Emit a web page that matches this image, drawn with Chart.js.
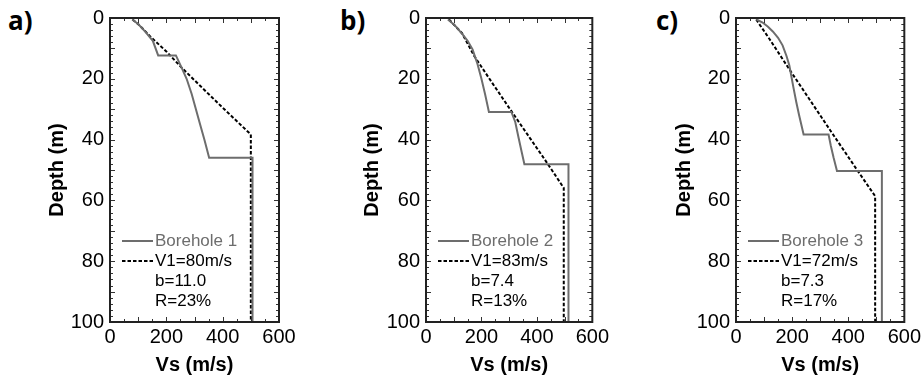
<!DOCTYPE html>
<html>
<head>
<meta charset="utf-8">
<script src="https://cdn.jsdelivr.net/npm/chart.js@4.4.1/dist/chart.umd.min.js"></script>
<style>
  body { margin: 0; background: #fff; width: 924px; height: 378px; overflow: hidden; position: relative; }
  canvas { position: absolute; top: 0; }
  .tag { position: absolute; font-family: "Open Sans", sans-serif; font-weight: 700; font-size: 26px; line-height: 1; color: #000; }
</style>
</head>
<body>
<div class="tag" style="left:8px;top:7px">a)</div>
<div class="tag" style="left:340px;top:7px">b)</div>
<div class="tag" style="left:656px;top:7px">c)</div>
<canvas id="chartA" width="300" height="378" style="left:0px"></canvas>
<canvas id="chartB" width="312" height="378" style="left:300px"></canvas>
<canvas id="chartC" width="314" height="378" style="left:610px"></canvas>
<script>
// Axis ticks
const xTicks = [0, 200, 400, 600];
const yTicks = [0, 20, 40, 60, 80, 100];

// Borehole profiles (solid grey)
const bh1Vs    = [79, 100, 125, 152, 171, 234, 255, 272, 290, 305, 320, 335, 352, 506, 506];
const bh1Depth = [0.5, 2, 4.5, 7.5, 12.3, 12.3, 16.5, 20, 25, 30, 35, 40, 46, 46, 100];

const bh2Vs    = [79, 105, 132, 150, 168, 186, 200, 213, 227, 308, 322, 333, 345, 355, 514, 514];
const bh2Depth = [0.5, 2.5, 5.4, 7.5, 10.3, 15.2, 20, 25, 30.9, 30.9, 34.2, 39, 44, 48.1, 48.1, 100];

const bh3Vs    = [73, 95, 114, 132, 150, 166, 180, 190, 197, 205, 215, 225, 241, 330, 338, 348, 360, 520, 520];
const bh3Depth = [0.5, 1.5, 2.9, 4.5, 6.5, 9, 12.5, 15.5, 19, 23, 27.7, 32, 38.3, 38.3, 42, 46, 50.3, 50.3, 100];

// Fitted profiles (dashed black)
const fit1Vs    = [80, 108, 142, 200, 254, 320, 400, 485, 500, 500];
const fit1Depth = [0.5, 2.7, 6, 11, 16.3, 22.3, 29.5, 37, 38.3, 100];

const fit2Vs    = [83, 130, 174, 240, 310, 375, 440, 497, 497];
const fit2Depth = [0.5, 5, 12.5, 21.5, 30.9, 39.5, 48.1, 55.9, 100];

const fit3Vs    = [72, 120, 186, 260, 340, 434, 496, 496];
const fit3Depth = [0.5, 7, 16.3, 26.5, 37.5, 50.3, 58.6, 100];

// Legend texts
const boreholeNames = ['Borehole 1', 'Borehole 2', 'Borehole 3'];
const v1Labels = ['V1=80m/s', 'V1=83m/s', 'V1=72m/s'];
const bLabels  = ['b=11.0', 'b=7.4', 'b=7.3'];
const rLabels  = ['R=23%', 'R=13%', 'R=17%'];

const GREY = '#6d6d6d';
const DASH = [3.5, 2];
const FONT = '"Liberation Sans", Arial, sans-serif';

const toPoints = (xs, ys) => xs.map((v, i) => ({ x: v, y: ys[i] }));

// box + inward ticks on all four sides
const framePlugin = {
    id: 'frame',
    afterDatasetsDraw(chart) {
        const { ctx, chartArea: a, scales: { x, y } } = chart;
        ctx.save();
        ctx.strokeStyle = '#333';
        ctx.lineWidth = 1;
        ctx.beginPath();
        for (let v = 0; v <= 600; v += 50) {
            const px = Math.round(x.getPixelForValue(v)) + 0.5;
            const len = v % 100 === 0 ? 5 : 3;
            ctx.moveTo(px, a.bottom); ctx.lineTo(px, a.bottom - len);
            ctx.moveTo(px, a.top); ctx.lineTo(px, a.top + len);
        }
        for (let v = 0; v <= 100; v += 2) {
            const py = Math.round(y.getPixelForValue(v)) + 0.5;
            const len = v % 10 === 0 ? 5 : 3;
            ctx.moveTo(a.left, py); ctx.lineTo(a.left + len, py);
            ctx.moveTo(a.right, py); ctx.lineTo(a.right - len, py);
        }
        ctx.stroke();
        ctx.strokeStyle = '#222';
        ctx.lineWidth = 2;
        ctx.strokeRect(a.left, a.top, a.right - a.left, a.bottom - a.top);
        ctx.restore();
    }
};

// legend drawn inside the plot, lower left
const legendPlugin = {
    id: 'insideLegend',
    afterDraw(chart, args, opts) {
        const { ctx, chartArea: a } = chart;
        ctx.save();
        ctx.font = '17px ' + FONT;
        ctx.textBaseline = 'middle';
        opts.rows.forEach((row, i) => {
            const yy = a.bottom - 81 + i * 20;
            if (row.line) {
                ctx.beginPath();
                ctx.strokeStyle = row.color;
                ctx.lineWidth = 2;
                ctx.setLineDash(row.line === 'dashed' ? DASH : []);
                ctx.moveTo(a.left + 12, yy);
                ctx.lineTo(a.left + 43, yy);
                ctx.stroke();
                ctx.setLineDash([]);
            }
            ctx.fillStyle = row.color;
            ctx.fillText(row.text, a.left + 45, yy);
        });
        ctx.restore();
    }
};

function makeChart(id, idx, vs, depth, fitVs, fitDepth, geom) {
    return new Chart(document.getElementById(id), {
        type: 'scatter',
        data: {
            datasets: [{
                data: toPoints(vs, depth),
                showLine: true,
                borderColor: GREY,
                borderWidth: 2,
                pointRadius: 0,
                tension: 0
            }, {
                data: toPoints(fitVs, fitDepth),
                showLine: true,
                borderColor: '#000',
                borderWidth: 2,
                borderDash: DASH,
                pointRadius: 0,
                tension: 0
            }]
        },
        options: {
            responsive: false,
            animation: false,
            layout: { padding: { left: geom.padLeft, right: geom.padRight, top: 15, bottom: 1 } },
            plugins: {
                legend: { display: false },
                tooltip: { enabled: false },
                insideLegend: {
                    rows: [
                        { text: boreholeNames[idx], color: GREY, line: 'solid' },
                        { text: v1Labels[idx], color: '#000', line: 'dashed' },
                        { text: bLabels[idx], color: '#000' },
                        { text: rLabels[idx], color: '#000' }
                    ]
                }
            },
            scales: {
                x: {
                    type: 'linear',
                    min: 0, max: 600,
                    afterBuildTicks: s => { s.ticks = xTicks.map(v => ({ value: v })); },
                    afterFit: s => { s.height = 55; },
                    grid: { display: false, drawTicks: false },
                    border: { display: false },
                    ticks: { padding: 3, color: '#000', font: { family: FONT, size: 20 } },
                    title: { display: true, text: 'Vs (m/s)', color: '#000', padding: 0,
                             font: { family: FONT, size: 20, weight: 'bold' } }
                },
                y: {
                    type: 'linear',
                    min: 0, max: 100,
                    reverse: true,
                    afterBuildTicks: s => { s.ticks = yTicks.map(v => ({ value: v })); },
                    afterFit: s => { s.width = geom.yWidth; },
                    grid: { display: false, drawTicks: false },
                    border: { display: false },
                    ticks: { padding: 6, color: '#000', font: { family: FONT, size: 20 } },
                    title: { display: true, text: 'Depth (m)', color: '#000', padding: 0,
                             font: { family: FONT, size: 20, weight: 'bold' } }
                }
            }
        },
        plugins: [framePlugin, legendPlugin]
    });
}

makeChart('chartA', 0, bh1Vs, bh1Depth, fit1Vs, fit1Depth, { padLeft: 45.5, yWidth: 64.5, padRight: 21 });
makeChart('chartB', 1, bh2Vs, bh2Depth, fit2Vs, fit2Depth, { padLeft: 60.5, yWidth: 65.5, padRight: 17 });
makeChart('chartC', 2, bh3Vs, bh3Depth, fit3Vs, fit3Depth, { padLeft: 62, yWidth: 64, padRight: 19 });
</script>
</body>
</html>
